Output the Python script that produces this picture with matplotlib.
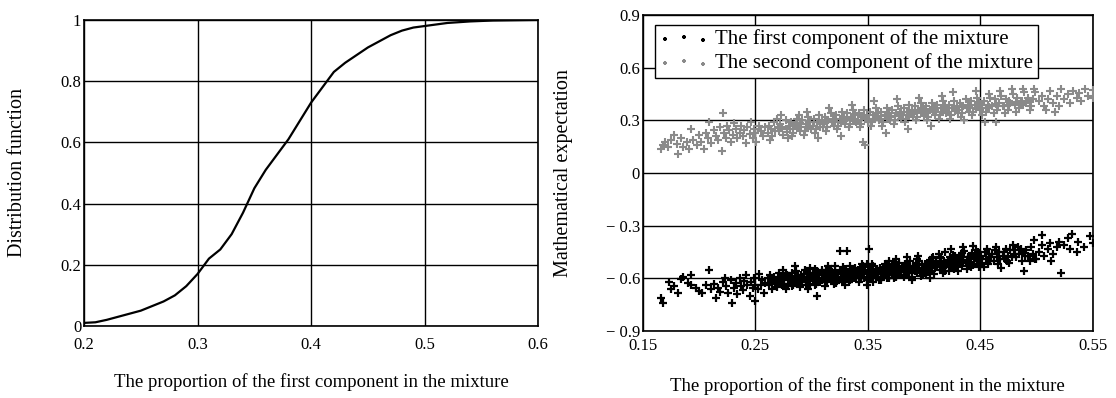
import numpy as np
import matplotlib
matplotlib.use("Agg")
import matplotlib.pyplot as plt

plt.rcParams['font.family'] = ['Liberation Serif', 'DejaVu Serif']

# left panel: distribution function of the proportion
cdf_x = [0.20, 0.21, 0.22, 0.23, 0.24, 0.25, 0.26, 0.27, 0.28, 0.29, 0.30,
         0.31, 0.32, 0.33, 0.34, 0.35, 0.36, 0.37, 0.38, 0.39, 0.40, 0.41,
         0.42, 0.43, 0.44, 0.45, 0.46, 0.47, 0.48, 0.49, 0.50, 0.52, 0.54,
         0.56, 0.60]
cdf_y = [0.01, 0.012, 0.02, 0.03, 0.04, 0.05, 0.065, 0.08, 0.10, 0.13, 0.17,
         0.22, 0.25, 0.30, 0.37, 0.45, 0.51, 0.56, 0.61, 0.67, 0.73, 0.78,
         0.83, 0.86, 0.885, 0.91, 0.93, 0.95, 0.965, 0.975, 0.98, 0.99, 0.995,
         0.998, 1.0]

# right panel: mathematical expectation of the first component
first_comp = [
    (0.166, -0.71), (0.168, -0.74), (0.173, -0.62), (0.175, -0.66), (0.178, -0.645),
    (0.181, -0.68), (0.184, -0.605), (0.186, -0.59), (0.190, -0.625), (0.193, -0.58),
    (0.193, -0.64), (0.197, -0.655), (0.200, -0.67), (0.203, -0.685), (0.206, -0.64),
    (0.209, -0.55), (0.211, -0.66), (0.213, -0.63), (0.215, -0.71), (0.217, -0.655),
    (0.219, -0.675), (0.221, -0.62), (0.223, -0.60), (0.224, -0.645), (0.226, -0.68),
    (0.228, -0.61), (0.229, -0.74), (0.231, -0.655), (0.233, -0.625), (0.234, -0.69),
    (0.236, -0.595), (0.237, -0.645), (0.239, -0.665), (0.240, -0.615), (0.242, -0.58),
    (0.243, -0.64), (0.245, -0.70), (0.246, -0.62), (0.248, -0.655), (0.249, -0.60),
    (0.250, -0.635), (0.250, -0.73), (0.252, -0.66), (0.253, -0.575), (0.255, -0.64),
    (0.256, -0.61), (0.258, -0.68), (0.259, -0.625),
    (0.261, -0.60), (0.262, -0.64), (0.263, -0.58), (0.264, -0.62), (0.265, -0.66),
    (0.266, -0.61), (0.267, -0.59), (0.268, -0.63), (0.269, -0.65), (0.270, -0.60),
    (0.271, -0.57), (0.272, -0.62), (0.273, -0.60), (0.274, -0.64), (0.275, -0.59),
    (0.276, -0.61), (0.277, -0.66), (0.278, -0.58), (0.279, -0.63), (0.280, -0.605),
    (0.275, -0.55), (0.281, -0.59), (0.282, -0.62), (0.283, -0.57), (0.284, -0.64),
    (0.285, -0.60), (0.286, -0.555), (0.287, -0.63), (0.288, -0.58), (0.289, -0.61),
    (0.290, -0.65), (0.284, -0.61), (0.288, -0.60), (0.285, -0.53),
    (0.291, -0.58), (0.292, -0.62), (0.293, -0.60), (0.294, -0.55), (0.295, -0.64),
    (0.296, -0.59), (0.297, -0.61), (0.298, -0.57), (0.299, -0.63), (0.300, -0.60),
    (0.293, -0.575), (0.297, -0.66), (0.299, -0.54),
    (0.301, -0.57), (0.302, -0.61), (0.303, -0.59), (0.304, -0.63), (0.305, -0.56),
    (0.306, -0.60), (0.307, -0.58), (0.308, -0.62), (0.309, -0.55), (0.310, -0.595),
    (0.303, -0.64), (0.306, -0.575), (0.309, -0.61), (0.305, -0.70),
    (0.311, -0.57), (0.312, -0.60), (0.313, -0.55), (0.314, -0.62), (0.315, -0.58),
    (0.316, -0.59), (0.317, -0.56), (0.318, -0.61), (0.319, -0.57), (0.320, -0.63),
    (0.313, -0.59), (0.317, -0.60), (0.315, -0.53), (0.312, -0.645),
    (0.321, -0.56), (0.322, -0.59), (0.323, -0.575), (0.324, -0.61), (0.325, -0.55),
    (0.326, -0.60), (0.327, -0.57), (0.328, -0.62), (0.329, -0.585), (0.330, -0.545),
    (0.323, -0.60), (0.327, -0.59), (0.325, -0.445), (0.330, -0.64), (0.321, -0.53),
    (0.331, -0.56), (0.332, -0.59), (0.333, -0.57), (0.334, -0.61), (0.335, -0.55),
    (0.336, -0.58), (0.337, -0.60), (0.338, -0.565), (0.339, -0.54), (0.340, -0.59),
    (0.333, -0.62), (0.336, -0.57), (0.339, -0.60), (0.332, -0.445),
    (0.341, -0.55), (0.342, -0.58), (0.343, -0.56), (0.344, -0.60), (0.345, -0.57),
    (0.346, -0.53), (0.347, -0.59), (0.348, -0.555), (0.349, -0.61), (0.350, -0.57),
    (0.343, -0.585), (0.347, -0.565), (0.345, -0.52), (0.349, -0.635),
    (0.351, -0.55), (0.352, -0.58), (0.353, -0.56), (0.354, -0.60), (0.355, -0.53),
    (0.356, -0.57), (0.357, -0.59), (0.358, -0.545), (0.359, -0.575), (0.360, -0.61),
    (0.353, -0.57), (0.357, -0.555), (0.351, -0.43), (0.355, -0.62),
    (0.361, -0.54), (0.362, -0.57), (0.363, -0.55), (0.364, -0.59), (0.365, -0.52),
    (0.366, -0.565), (0.367, -0.58), (0.368, -0.545), (0.369, -0.60), (0.370, -0.555),
    (0.363, -0.575), (0.367, -0.53), (0.369, -0.50),
    (0.371, -0.54), (0.372, -0.57), (0.373, -0.52), (0.374, -0.56), (0.375, -0.59),
    (0.376, -0.545), (0.377, -0.565), (0.378, -0.51), (0.379, -0.58), (0.380, -0.55),
    (0.373, -0.60), (0.377, -0.535), (0.375, -0.49),
    (0.381, -0.53), (0.382, -0.56), (0.383, -0.545), (0.384, -0.58), (0.385, -0.51),
    (0.386, -0.555), (0.387, -0.57), (0.388, -0.535), (0.389, -0.59), (0.390, -0.55),
    (0.383, -0.52), (0.387, -0.565), (0.385, -0.48), (0.389, -0.61),
    (0.391, -0.53), (0.392, -0.555), (0.393, -0.51), (0.394, -0.57), (0.395, -0.54),
    (0.396, -0.50), (0.397, -0.56), (0.398, -0.525), (0.399, -0.58), (0.400, -0.545),
    (0.393, -0.535), (0.397, -0.585), (0.395, -0.47),
    (0.401, -0.515), (0.402, -0.545), (0.403, -0.525), (0.404, -0.565), (0.405, -0.495),
    (0.406, -0.54), (0.407, -0.555), (0.408, -0.51), (0.409, -0.575), (0.410, -0.53),
    (0.403, -0.545), (0.407, -0.485), (0.405, -0.595),
    (0.411, -0.50), (0.412, -0.53), (0.413, -0.515), (0.414, -0.55), (0.415, -0.485),
    (0.416, -0.525), (0.417, -0.54), (0.418, -0.505), (0.419, -0.56), (0.420, -0.52),
    (0.413, -0.46), (0.417, -0.57), (0.419, -0.45),
    (0.421, -0.495), (0.422, -0.525), (0.423, -0.48), (0.424, -0.535), (0.425, -0.505),
    (0.426, -0.465), (0.427, -0.545), (0.428, -0.49), (0.429, -0.52), (0.430, -0.555),
    (0.424, -0.43), (0.428, -0.515),
    (0.431, -0.485), (0.432, -0.515), (0.433, -0.465), (0.434, -0.53), (0.435, -0.495),
    (0.436, -0.445), (0.437, -0.51), (0.438, -0.545), (0.439, -0.475), (0.440, -0.52),
    (0.435, -0.42), (0.439, -0.50),
    (0.441, -0.475), (0.442, -0.505), (0.443, -0.455), (0.444, -0.525), (0.445, -0.485),
    (0.446, -0.44), (0.447, -0.515), (0.448, -0.465), (0.449, -0.535), (0.450, -0.49),
    (0.444, -0.415), (0.448, -0.50),
    (0.451, -0.47), (0.452, -0.51), (0.454, -0.45), (0.455, -0.49), (0.456, -0.43),
    (0.457, -0.52), (0.458, -0.46), (0.460, -0.48), (0.453, -0.535), (0.459, -0.50),
    (0.461, -0.46), (0.462, -0.50), (0.463, -0.44), (0.465, -0.48), (0.466, -0.52),
    (0.467, -0.45), (0.468, -0.49), (0.470, -0.47), (0.464, -0.42), (0.469, -0.54),
    (0.471, -0.45), (0.472, -0.49), (0.473, -0.43), (0.475, -0.47), (0.476, -0.51),
    (0.477, -0.44), (0.478, -0.48), (0.479, -0.41), (0.480, -0.46), (0.474, -0.50),
    (0.481, -0.44), (0.482, -0.48), (0.484, -0.42), (0.485, -0.46), (0.487, -0.50),
    (0.488, -0.45), (0.490, -0.47), (0.486, -0.43), (0.489, -0.56),
    (0.491, -0.44), (0.493, -0.47), (0.495, -0.42), (0.497, -0.46), (0.499, -0.49),
    (0.494, -0.50), (0.498, -0.38),
    (0.502, -0.45), (0.505, -0.41), (0.507, -0.47), (0.510, -0.43), (0.512, -0.40),
    (0.515, -0.46), (0.518, -0.42), (0.520, -0.39), (0.522, -0.57), (0.525, -0.41),
    (0.528, -0.37), (0.530, -0.43), (0.532, -0.345), (0.536, -0.45), (0.537, -0.395),
    (0.542, -0.42), (0.548, -0.36), (0.550, -0.40), (0.513, -0.50), (0.500, -0.49),
    (0.505, -0.35),
    # densest part of the cloud
    (0.272, -0.595), (0.276, -0.63), (0.279, -0.585), (0.282, -0.605), (0.286, -0.585),
    (0.289, -0.625), (0.283, -0.645), (0.277, -0.57),
    (0.292, -0.595), (0.295, -0.615), (0.298, -0.59), (0.301, -0.61), (0.304, -0.58),
    (0.307, -0.615), (0.310, -0.57), (0.296, -0.565), (0.303, -0.545),
    (0.312, -0.58), (0.315, -0.605), (0.318, -0.575), (0.321, -0.60), (0.324, -0.57),
    (0.327, -0.61), (0.330, -0.565), (0.316, -0.545), (0.322, -0.625), (0.328, -0.535),
    (0.332, -0.575), (0.335, -0.60), (0.338, -0.58), (0.341, -0.57), (0.344, -0.545),
    (0.347, -0.60), (0.350, -0.555), (0.334, -0.53), (0.342, -0.62), (0.349, -0.52),
    (0.352, -0.565), (0.355, -0.585), (0.358, -0.56), (0.361, -0.555), (0.364, -0.535),
    (0.367, -0.595), (0.370, -0.54), (0.354, -0.515), (0.362, -0.61), (0.368, -0.515),
    (0.372, -0.555), (0.375, -0.53), (0.378, -0.565), (0.381, -0.545), (0.384, -0.525),
    (0.387, -0.55), (0.390, -0.535), (0.374, -0.505), (0.382, -0.59), (0.388, -0.50),
    (0.392, -0.54), (0.395, -0.515), (0.398, -0.55), (0.401, -0.53), (0.404, -0.51),
    (0.407, -0.535), (0.410, -0.515), (0.394, -0.49), (0.402, -0.575), (0.408, -0.48),
    (0.412, -0.515), (0.415, -0.50), (0.418, -0.53), (0.421, -0.51), (0.424, -0.49),
    (0.427, -0.52), (0.430, -0.50), (0.414, -0.475), (0.422, -0.555), (0.428, -0.47),
    (0.432, -0.50), (0.435, -0.48), (0.438, -0.51), (0.441, -0.49), (0.444, -0.47),
    (0.447, -0.50), (0.450, -0.475), (0.434, -0.455), (0.442, -0.535), (0.448, -0.45),
]

# right panel: mathematical expectation of the second component
second_comp = [
    (0.166, 0.137), (0.168, 0.16), (0.170, 0.175), (0.172, 0.15), (0.175, 0.19),
    (0.178, 0.217), (0.180, 0.165), (0.181, 0.11), (0.184, 0.20), (0.186, 0.15),
    (0.189, 0.175), (0.191, 0.135), (0.193, 0.25), (0.195, 0.19), (0.198, 0.16),
    (0.200, 0.215), (0.202, 0.18), (0.204, 0.14), (0.206, 0.23), (0.208, 0.20),
    (0.209, 0.29), (0.211, 0.17), (0.213, 0.245), (0.215, 0.21), (0.217, 0.19),
    (0.219, 0.26), (0.220, 0.125), (0.221, 0.34), (0.222, 0.23), (0.224, 0.20),
    (0.225, 0.27), (0.227, 0.245), (0.228, 0.18), (0.230, 0.22), (0.231, 0.285),
    (0.233, 0.25), (0.234, 0.20), (0.236, 0.23), (0.237, 0.27), (0.239, 0.21),
    (0.240, 0.245), (0.242, 0.17), (0.243, 0.26), (0.245, 0.225), (0.246, 0.29),
    (0.248, 0.20), (0.249, 0.25), (0.250, 0.23), (0.251, 0.18), (0.253, 0.27),
    (0.255, 0.24), (0.257, 0.21), (0.259, 0.26),
    (0.261, 0.23), (0.262, 0.27), (0.264, 0.25), (0.265, 0.21), (0.267, 0.29),
    (0.268, 0.24), (0.270, 0.26), (0.263, 0.19), (0.269, 0.31),
    (0.271, 0.24), (0.272, 0.28), (0.274, 0.26), (0.275, 0.22), (0.277, 0.30),
    (0.278, 0.25), (0.280, 0.27), (0.273, 0.33), (0.279, 0.20),
    (0.281, 0.25), (0.282, 0.29), (0.284, 0.23), (0.285, 0.27), (0.287, 0.31),
    (0.288, 0.26), (0.290, 0.24), (0.283, 0.21), (0.289, 0.33), (0.286, 0.28),
    (0.291, 0.26), (0.292, 0.30), (0.294, 0.24), (0.295, 0.28), (0.297, 0.32),
    (0.298, 0.27), (0.300, 0.25), (0.293, 0.22), (0.299, 0.29), (0.296, 0.35),
    (0.301, 0.27), (0.302, 0.31), (0.304, 0.25), (0.305, 0.29), (0.307, 0.33),
    (0.308, 0.28), (0.310, 0.26), (0.303, 0.23), (0.309, 0.30), (0.306, 0.20),
    (0.311, 0.28), (0.312, 0.32), (0.314, 0.26), (0.315, 0.30), (0.317, 0.34),
    (0.318, 0.29), (0.320, 0.27), (0.313, 0.24), (0.319, 0.31), (0.316, 0.37),
    (0.321, 0.29), (0.322, 0.33), (0.324, 0.27), (0.325, 0.31), (0.327, 0.35),
    (0.328, 0.30), (0.330, 0.28), (0.323, 0.25), (0.329, 0.32), (0.326, 0.21),
    (0.331, 0.30), (0.332, 0.34), (0.334, 0.28), (0.335, 0.32), (0.337, 0.36),
    (0.338, 0.31), (0.340, 0.29), (0.333, 0.26), (0.339, 0.33), (0.336, 0.39),
    (0.341, 0.30), (0.342, 0.34), (0.344, 0.28), (0.345, 0.32), (0.347, 0.36),
    (0.348, 0.31), (0.350, 0.29), (0.343, 0.26), (0.349, 0.33), (0.346, 0.18),
    (0.348, 0.16),
    (0.351, 0.31), (0.352, 0.35), (0.354, 0.29), (0.355, 0.33), (0.357, 0.37),
    (0.358, 0.32), (0.360, 0.30), (0.353, 0.27), (0.359, 0.34), (0.356, 0.41),
    (0.361, 0.31), (0.362, 0.35), (0.364, 0.29), (0.365, 0.33), (0.367, 0.37),
    (0.368, 0.32), (0.370, 0.30), (0.363, 0.27), (0.369, 0.34), (0.366, 0.23),
    (0.371, 0.32), (0.372, 0.36), (0.374, 0.30), (0.375, 0.34), (0.377, 0.38),
    (0.378, 0.33), (0.380, 0.31), (0.373, 0.28), (0.379, 0.35), (0.376, 0.42),
    (0.381, 0.33), (0.382, 0.37), (0.384, 0.31), (0.385, 0.35), (0.387, 0.39),
    (0.388, 0.34), (0.390, 0.32), (0.383, 0.29), (0.389, 0.36), (0.386, 0.25),
    (0.391, 0.34), (0.392, 0.38), (0.394, 0.32), (0.395, 0.36), (0.397, 0.40),
    (0.398, 0.35), (0.400, 0.33), (0.393, 0.30), (0.399, 0.37), (0.396, 0.43),
    (0.401, 0.34), (0.402, 0.38), (0.404, 0.32), (0.405, 0.36), (0.407, 0.40),
    (0.408, 0.35), (0.410, 0.33), (0.403, 0.30), (0.409, 0.37), (0.406, 0.27),
    (0.411, 0.35), (0.412, 0.39), (0.414, 0.33), (0.415, 0.37), (0.417, 0.41),
    (0.418, 0.36), (0.420, 0.34), (0.413, 0.31), (0.419, 0.38), (0.416, 0.44),
    (0.421, 0.35), (0.422, 0.39), (0.424, 0.33), (0.425, 0.37), (0.427, 0.41),
    (0.428, 0.36), (0.430, 0.34), (0.423, 0.31), (0.429, 0.38), (0.426, 0.46),
    (0.431, 0.36), (0.432, 0.40), (0.434, 0.34), (0.435, 0.38), (0.437, 0.42),
    (0.438, 0.37), (0.440, 0.35), (0.433, 0.32), (0.439, 0.39), (0.436, 0.30),
    (0.441, 0.37), (0.442, 0.41), (0.444, 0.35), (0.445, 0.39), (0.447, 0.43),
    (0.448, 0.38), (0.450, 0.36), (0.443, 0.33), (0.449, 0.40), (0.446, 0.47),
    (0.451, 0.37), (0.453, 0.41), (0.455, 0.35), (0.457, 0.39), (0.459, 0.43),
    (0.452, 0.33), (0.458, 0.45), (0.456, 0.37), (0.454, 0.29),
    (0.461, 0.38), (0.463, 0.42), (0.465, 0.36), (0.467, 0.40), (0.469, 0.44),
    (0.462, 0.34), (0.468, 0.47), (0.466, 0.38), (0.464, 0.29),
    (0.471, 0.38), (0.473, 0.42), (0.475, 0.36), (0.477, 0.40), (0.479, 0.45),
    (0.472, 0.34), (0.478, 0.48), (0.476, 0.41),
    (0.481, 0.39), (0.483, 0.43), (0.485, 0.37), (0.487, 0.41), (0.489, 0.46),
    (0.482, 0.35), (0.488, 0.48), (0.486, 0.40),
    (0.491, 0.40), (0.493, 0.43), (0.495, 0.38), (0.497, 0.42), (0.499, 0.46),
    (0.494, 0.36), (0.498, 0.48),
    (0.502, 0.41), (0.505, 0.44), (0.507, 0.38), (0.510, 0.42), (0.512, 0.47),
    (0.515, 0.40), (0.518, 0.44), (0.520, 0.38), (0.522, 0.48), (0.525, 0.42),
    (0.528, 0.45), (0.530, 0.40), (0.533, 0.47), (0.536, 0.43), (0.538, 0.456),
    (0.540, 0.41), (0.543, 0.48), (0.546, 0.44), (0.550, 0.473), (0.550, 0.43),
    (0.517, 0.35), (0.509, 0.36),
    # densest part of the cloud
    (0.272, 0.255), (0.278, 0.235), (0.284, 0.25), (0.290, 0.285), (0.296, 0.265),
    (0.302, 0.29), (0.308, 0.265), (0.314, 0.29), (0.320, 0.305), (0.326, 0.285),
    (0.332, 0.315), (0.338, 0.295), (0.344, 0.32), (0.350, 0.305), (0.356, 0.31),
    (0.362, 0.325), (0.368, 0.31), (0.374, 0.325), (0.380, 0.345), (0.386, 0.33),
    (0.392, 0.355), (0.398, 0.34), (0.404, 0.35), (0.410, 0.36), (0.416, 0.35),
    (0.422, 0.37), (0.428, 0.355), (0.434, 0.375), (0.440, 0.385), (0.446, 0.365),
    (0.452, 0.39), (0.458, 0.375), (0.464, 0.395), (0.470, 0.385), (0.476, 0.39),
    (0.482, 0.405), (0.488, 0.39), (0.494, 0.41),
]

left_xticks = [0.2, 0.3, 0.4, 0.5, 0.6]
left_yticks = [0, 0.2, 0.4, 0.6, 0.8, 1.0]
left_ylabels = ["0", "0.2", "0.4", "0.6", "0.8", "1"]
right_xticks = [0.15, 0.25, 0.35, 0.45, 0.55]
right_yticks = [-0.9, -0.6, -0.3, 0, 0.3, 0.6, 0.9]
right_ylabels = ["\u2212 0.9", "\u2212 0.6", "\u2212 0.3", "0", "0.3", "0.6", "0.9"]

xlabel = "The proportion of the first component in the mixture"

fig = plt.figure(figsize=(11.16, 3.98), dpi=100)
ax1 = fig.add_axes([0.0753, 0.181, 0.407, 0.769])
ax2 = fig.add_axes([0.576, 0.168, 0.403, 0.794])


def style(ax, xpad):
    ax.grid(True, color="black", linewidth=1.0)
    ax.set_axisbelow(True)
    for s in ax.spines.values():
        s.set_linewidth(1.2)
        s.set_color("black")
    ax.tick_params(length=0, labelsize=12, pad=2)
    ax.tick_params(axis="x", pad=xpad)


# left
ax1.plot(cdf_x, cdf_y, color="black", linewidth=1.6)
ax1.set_xlim(0.2, 0.6)
ax1.set_ylim(0, 1)
ax1.set_xticks(left_xticks)
ax1.set_xticklabels([str(t) for t in left_xticks])
ax1.set_yticks(left_yticks)
ax1.set_yticklabels(left_ylabels)
style(ax1, 8)
ax1.set_xlabel(xlabel, fontsize=13.5)
ax1.xaxis.set_label_coords(0.5, -0.155)
ax1.set_ylabel("Distribution function", fontsize=14.5)
ax1.yaxis.set_label_coords(-0.125, 0.5)

# right
p1 = np.array(first_comp)
p2 = np.array(second_comp)
ax2.scatter(p1[:, 0], p1[:, 1], marker="+", s=28, linewidths=1.6, color="black",
            label="The first component of the mixture", zorder=3)
ax2.scatter(p2[:, 0], p2[:, 1], marker="+", s=26, linewidths=1.5, color="#8a8a8a",
            label="The second component of the mixture", zorder=3)
ax2.set_xlim(0.15, 0.55)
ax2.set_ylim(-0.9, 0.9)
ax2.set_xticks(right_xticks)
ax2.set_xticklabels([str(t) for t in right_xticks])
ax2.set_yticks(right_yticks)
ax2.set_yticklabels(right_ylabels)
style(ax2, 5)
ax2.set_xlabel(xlabel, fontsize=13.5)
ax2.xaxis.set_label_coords(0.5, -0.145)
ax2.set_ylabel("Mathematical expectation", fontsize=14.5)
ax2.yaxis.set_label_coords(-0.155, 0.5)

leg = ax2.legend(loc="upper left", bbox_to_anchor=(0.027, 0.968), scatterpoints=3,
                 fontsize=15, frameon=True, fancybox=False, framealpha=1,
                 edgecolor="black", borderpad=0.2, handletextpad=0.3,
                 labelspacing=0.2, borderaxespad=0, handlelength=2.4,
                 markerscale=0.55)
leg.get_frame().set_linewidth(1.0)

fig.savefig("out.png", dpi=100)
